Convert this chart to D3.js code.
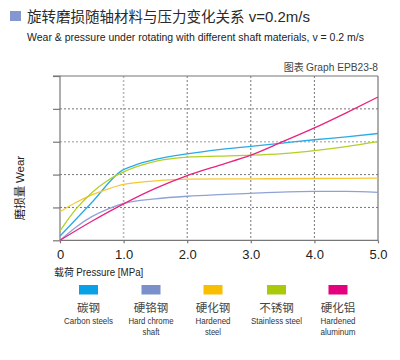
<!DOCTYPE html>
<html><head><meta charset="utf-8">
<script src="https://cdn.jsdelivr.net/npm/d3@7/dist/d3.min.js"></script>
<style>body{margin:0;background:#fff}svg{display:block}</style>
</head><body>
<script>
const xTicks = [0, 1, 2, 3, 4, 5];
const xTickLabels = ["0", "1.0", "2.0", "3.0", "4.0", "5.0"];
const yTicks = [0, 1, 2, 3, 4, 5];
const seriesNames = ["碳钢", "硬铬钢", "硬化钢", "不锈钢", "硬化铝"];
const seriesEnglish = [["Carbon steels"], ["Hard chrome", "shaft"], ["Hardened", "steel"], ["Stainless steel"], ["Hardened", "aluminum"]];
const lineColors = ["#2aaae6", "#8ea2d6", "#f7c833", "#b2d024", "#e8237f"];
const swatchColors = ["#0aa0e6", "#7b8fcb", "#f7bf00", "#a9c90a", "#e5007d"];
const carbonX = [0, 0.5, 0.97, 1.2, 1.5, 2, 2.5, 3, 3.5, 4, 4.5, 5];
const carbonY = [0.13, 1.15, 2.12, 2.3, 2.46, 2.63, 2.76, 2.86, 2.96, 3.06, 3.15, 3.25];
const chromeX = [0, 0.25, 0.5, 0.75, 1, 1.5, 2, 2.5, 3, 4, 4.5, 5];
const chromeY = [0, 0.4, 0.72, 0.95, 1.12, 1.26, 1.34, 1.39, 1.43, 1.49, 1.49, 1.46];
const hardX = [0, 0.25, 0.5, 0.75, 1, 1.5, 2, 3, 4, 5];
const hardY = [0.87, 1.15, 1.38, 1.56, 1.7, 1.81, 1.86, 1.87, 1.88, 1.89];
const stainX = [0, 0.25, 0.5, 0.75, 1, 1.5, 2, 2.5, 3, 3.5, 4, 4.5, 5];
const stainY = [0.29, 0.95, 1.45, 1.82, 2.08, 2.4, 2.53, 2.56, 2.59, 2.64, 2.73, 2.85, 3.0];
const aluX = [0, 0.5, 1, 1.5, 2, 2.5, 3, 3.5, 4, 4.5, 5];
const aluY = [0, 0.58, 1.11, 1.58, 1.97, 2.28, 2.59, 3.0, 3.42, 3.88, 4.36];

const seriesX = [carbonX, chromeX, hardX, stainX, aluX];
const seriesY = [carbonY, chromeY, hardY, stainY, aluY];

const W = 400, H = 360;
const svg = d3.select("body").append("svg").attr("width", W).attr("height", H);
const latin = "'Liberation Sans', Arial, sans-serif";
const cjk = "'Noto Sans CJK SC', 'Liberation Sans', sans-serif";

const x = d3.scaleLinear().domain([0, 5]).range([60, 378]);
const y = d3.scaleLinear().domain([0, 5]).range([240.3, 76]);

// Title
svg.append("rect").attr("x", 10).attr("y", 11).attr("width", 11).attr("height", 10).attr("fill", "#8597cf");
const t = svg.append("text").attr("x", 27).attr("y", 21.5).attr("font-size", 14.5).attr("fill", "#2a2a2a");
t.append("tspan").attr("font-family", cjk).text("旋转磨损随轴材料与压力变化关系");
t.append("tspan").attr("font-family", latin).attr("font-size", 15).text(" v=0.2m/s");
svg.append("text").attr("x", 27).attr("y", 40.5).attr("font-family", latin).attr("font-size", 11.5)
  .attr("fill", "#222").attr("textLength", 337).attr("lengthAdjust", "spacingAndGlyphs")
  .text("Wear & pressure under rotating with different shaft materials, v = 0.2 m/s");
const gt = svg.append("text").attr("x", 378).attr("y", 71).attr("text-anchor", "end").attr("font-size", 10).attr("fill", "#444");
gt.append("tspan").attr("font-family", cjk).text("图表 ");
gt.append("tspan").attr("font-family", latin).attr("textLength", 72).attr("lengthAdjust", "spacingAndGlyphs").text("Graph EPB23-8");

// Grid
const g = svg.append("g");
xTicks.slice(1, -1).forEach((v, i) => {
  g.append("line").attr("x1", x(v)).attr("x2", x(v)).attr("y1", y(5)).attr("y2", y(0))
    .attr("stroke", v === 1 ? "#bbb" : "#666").attr("stroke-width", v === 1 ? 1.6 : 0.9)
    .attr("stroke-dasharray", "2,2");
});
yTicks.slice(1, -1).forEach(v => {
  g.append("line").attr("x1", x(0)).attr("x2", x(5)).attr("y1", y(v)).attr("y2", y(v))
    .attr("stroke", v === 3 ? "#bbb" : "#666").attr("stroke-width", v === 3 ? 1.6 : 0.9)
    .attr("stroke-dasharray", "2,2");
});

// Axes
const axisColor = "#777";
const yAx = svg.append("g").attr("transform", `translate(${x(0)},0)`)
  .call(d3.axisLeft(y).tickValues(yTicks).tickSize(7).tickFormat(""));
yAx.selectAll("path,line").attr("stroke", axisColor).attr("stroke-width", 1.2);
yAx.select(".domain").attr("d", `M-7,${y(5)}H0V${y(0)}`);
const xAx = svg.append("g").attr("transform", `translate(0,${y(0)})`)
  .call(d3.axisBottom(x).tickValues(xTicks).tickSize(3).tickFormat((d, i) => xTickLabels[i]));
xAx.select(".domain").attr("d", `M${x(0)},0H${x(5)}`);
xAx.selectAll("path,line").attr("stroke", axisColor).attr("stroke-width", 1.2);
xAx.selectAll("text").attr("font-family", latin).attr("font-size", 13).attr("fill", "#222").attr("dy", 0).attr("y", 18.5);
// top and right frame
svg.append("line").attr("x1", x(0)).attr("x2", x(5)).attr("y1", y(5)).attr("y2", y(5)).attr("stroke", axisColor).attr("stroke-width", 1.2);
svg.append("line").attr("x1", x(5)).attr("x2", x(5)).attr("y1", y(5)).attr("y2", y(0)).attr("stroke", axisColor).attr("stroke-width", 1.2);

// Lines
const line = d3.line().x(d => x(d[0])).y(d => y(d[1])).curve(d3.curveMonotoneX);
seriesX.forEach((xs, i) => {
  const pts = xs.map((v, j) => [v, seriesY[i][j]]);
  svg.append("path").attr("d", line(pts)).attr("fill", "none").attr("stroke", lineColors[i]).attr("stroke-width", 1.3);
});

// Axis titles
const xt = svg.append("text").attr("x", 54).attr("y", 276).attr("font-size", 10).attr("fill", "#222");
xt.append("tspan").attr("font-family", cjk).text("载荷 ");
xt.append("tspan").attr("font-family", latin).attr("textLength", 67).attr("lengthAdjust", "spacingAndGlyphs").text("Pressure  [MPa]");
const yt = svg.append("text").attr("transform", "translate(24,188) rotate(-90)").attr("text-anchor", "middle").attr("font-size", 11.5).attr("fill", "#222");
yt.append("tspan").attr("font-family", cjk).text("磨损量 ");
yt.append("tspan").attr("font-family", latin).text("Wear");

// Legend
const legendX = [88.5, 151, 213, 276.5, 338];
const enWidths = [[49], [45, 17], [35, 16], [51], [35, 35]];
seriesNames.forEach((n, i) => {
  const cx = legendX[i];
  svg.append("rect").attr("x", cx - 9.5).attr("y", 285).attr("width", 19).attr("height", 9.5).attr("fill", swatchColors[i]);
  svg.append("text").attr("x", cx).attr("y", 312).attr("text-anchor", "middle").attr("font-family", cjk)
    .attr("font-size", 11.5).attr("fill", "#444").text(n);
  seriesEnglish[i].forEach((s, k) => {
    svg.append("text").attr("x", cx).attr("y", 324 + k * 11).attr("text-anchor", "middle").attr("font-family", latin)
      .attr("font-size", 9.5).attr("fill", "#333").attr("textLength", enWidths[i][k]).attr("lengthAdjust", "spacingAndGlyphs").text(s);
  });
});
</script>
</body></html>
